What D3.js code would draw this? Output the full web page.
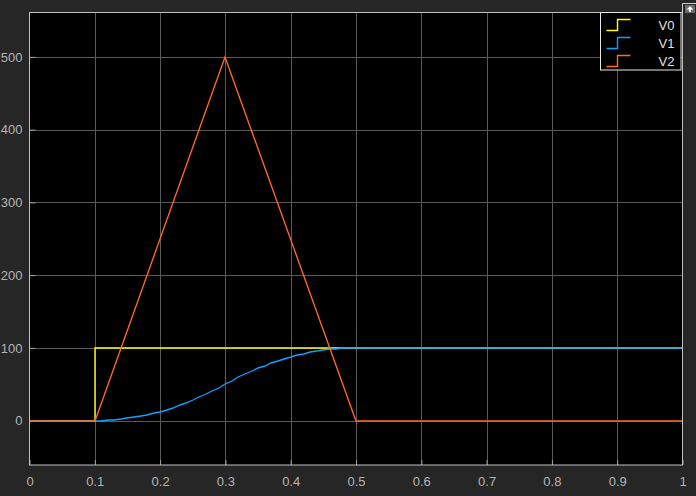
<!DOCTYPE html>
<html>
<head>
<meta charset="utf-8">
<script src="https://cdn.jsdelivr.net/npm/d3@7"></script>
<style>
  html, body { margin: 0; padding: 0; background: #262626; }
  svg { display: block; }
  text { font-family: "Liberation Sans", Arial, sans-serif; }
</style>
</head>
<body>
<svg id="svg1" width="696" height="496"></svg>
<script>
var width = 696;
var height = 496;

// data
var seriesNames = ["V0", "V1", "V2"];
var seriesColors = ["#ffff11", "#139fff", "#ff6929"];

var v0Time = [0, 0.1, 0.1, 1];
var v0Value = [0, 0, 100, 100];

var v1Time = [0, 0.10, 0.11, 0.12, 0.13, 0.14, 0.15, 0.16, 0.17, 0.18, 0.19, 0.20,
              0.21, 0.22, 0.23, 0.24, 0.25, 0.26, 0.27, 0.28, 0.29, 0.30,
              0.31, 0.32, 0.33, 0.34, 0.35, 0.36, 0.37, 0.38, 0.39, 0.40,
              0.41, 0.42, 0.43, 0.44, 0.45, 0.46, 0.47, 0.48, 0.49, 0.50, 1];
var v1Value = [0, 0, 0.1, 0.5, 1.1, 2, 3.1, 4.5, 6.1, 8, 10.1, 12.5,
               15.1, 18, 21.1, 24.5, 28.1, 32, 36.1, 40.5, 45.1, 50,
               54.9, 59.5, 63.9, 68, 71.9, 75.5, 78.9, 82, 84.9, 87.5,
               89.9, 92, 93.9, 95.5, 96.9, 98, 98.9, 99.5, 99.9, 100, 100];

var v2Time = [0, 0.1, 0.3, 0.5, 1];
var v2Value = [0, 0, 500, 0, 0];

var xTicks = [0, 0.1, 0.2, 0.3, 0.4, 0.5, 0.6, 0.7, 0.8, 0.9, 1];
var yTicks = [0, 100, 200, 300, 400, 500];

var marginLeft = 29.5;
var marginTop = 12.5;
var plotRight = 682.5;
var plotBottom = 465;

var x = d3.scaleLinear().domain([0, 1]).range([marginLeft, plotRight]);
var y = d3.scaleLinear().domain([-61, 561]).range([plotBottom, marginTop]);

var svg = d3.select('svg');

svg.append("rect")
   .attr("x", marginLeft).attr("y", marginTop)
   .attr("width", plotRight - marginLeft).attr("height", plotBottom - marginTop)
   .attr("fill", "#000");

// grid
var grid = svg.append("g").attr("stroke", "#595959").attr("stroke-width", 1);
grid.selectAll("line.gx")
    .data(xTicks.slice(1, -1))
    .enter().append("line")
    .attr("x1", function(d) { return Math.round(x(d)) + 0.5; })
    .attr("x2", function(d) { return Math.round(x(d)) + 0.5; })
    .attr("y1", marginTop).attr("y2", plotBottom);
grid.selectAll("line.gy")
    .data(yTicks)
    .enter().append("line")
    .attr("y1", function(d) { return Math.round(y(d)) + 0.5; })
    .attr("y2", function(d) { return Math.round(y(d)) + 0.5; })
    .attr("x1", marginLeft).attr("x2", plotRight);

// axes
var xAxis = d3.axisBottom(x).tickValues(xTicks).tickSizeInner(-5).tickSizeOuter(0).tickPadding(12)
              .tickFormat(function(d) { return d === 0 || d === 1 ? d : d3.format(".1f")(d); });
var yAxis = d3.axisLeft(y).tickValues(yTicks).tickSizeInner(-6).tickSizeOuter(0).tickPadding(7);

var gx = svg.append("g").attr("transform", "translate(0," + plotBottom + ")").call(xAxis);
var gy = svg.append("g").attr("transform", "translate(" + marginLeft + ",0)").call(yAxis);

[gx, gy].forEach(function(g) {
  g.select(".domain").remove();
  g.selectAll(".tick line").attr("stroke", "#a0a0a0");
  g.selectAll(".tick text").attr("fill", "#b4b4b4").attr("font-size", "13px");
});

// lines
var series = [
  { name: seriesNames[0], color: seriesColors[0], t: v0Time, v: v0Value },
  { name: seriesNames[1], color: seriesColors[1], t: v1Time, v: v1Value },
  { name: seriesNames[2], color: seriesColors[2], t: v2Time, v: v2Value }
];

// snap to pixel edges so overlapping traces cover each other cleanly
var line = d3.line()
             .x(function(d) { return Math.round(x(d[0])); })
             .y(function(d) { return Math.round(y(d[1])); });

series.forEach(function(s) {
  var pts = s.t.map(function(t, i) { return [t, s.v[i]]; });
  svg.append("path")
     .attr("d", line(pts))
     .attr("fill", "none")
     .attr("stroke", s.color)
     .attr("stroke-width", 1.35);
});

// plot border
svg.append("rect")
   .attr("x", marginLeft).attr("y", marginTop)
   .attr("width", plotRight - marginLeft).attr("height", plotBottom - marginTop)
   .attr("fill", "none").attr("stroke", "#c0c0c0").attr("stroke-width", 1);

// legend
var legend = svg.append("g").attr("transform", "translate(600.5,12.5)");
legend.append("rect")
      .attr("width", 80.5).attr("height", 57.5)
      .attr("fill", "#000").attr("stroke", "#e6e6e6").attr("stroke-width", 1);

var item = legend.selectAll("g.item")
                 .data(series)
                 .enter().append("g")
                 .attr("transform", function(d, i) { return "translate(0," + (13 + i * 18) + ")"; });

item.append("path")
    .attr("d", "M6,5 H17 V-6 H30")
    .attr("fill", "none")
    .attr("stroke", function(d) { return d.color; })
    .attr("stroke-width", 1.4);

item.append("text")
    .attr("x", 58).attr("y", 4.5)
    .attr("fill", "#e0e0e0")
    .attr("font-size", "13px")
    .text(function(d) { return d.name; });

// undock button, top right
var btn = svg.append("g");
btn.append("path")
   .attr("d", "M682.5,14 V3.5 H696")
   .attr("fill", "none").attr("stroke", "#d0d0d0");
btn.append("rect")
   .attr("x", 685).attr("y", 5).attr("width", 10).attr("height", 8)
   .attr("fill", "#6a6a6a");
btn.append("path")
   .attr("d", "M690,6 L693.5,9.5 H691 V12 H689 V9.5 H686.5 Z")
   .attr("fill", "#fff");
</script>
</body>
</html>
